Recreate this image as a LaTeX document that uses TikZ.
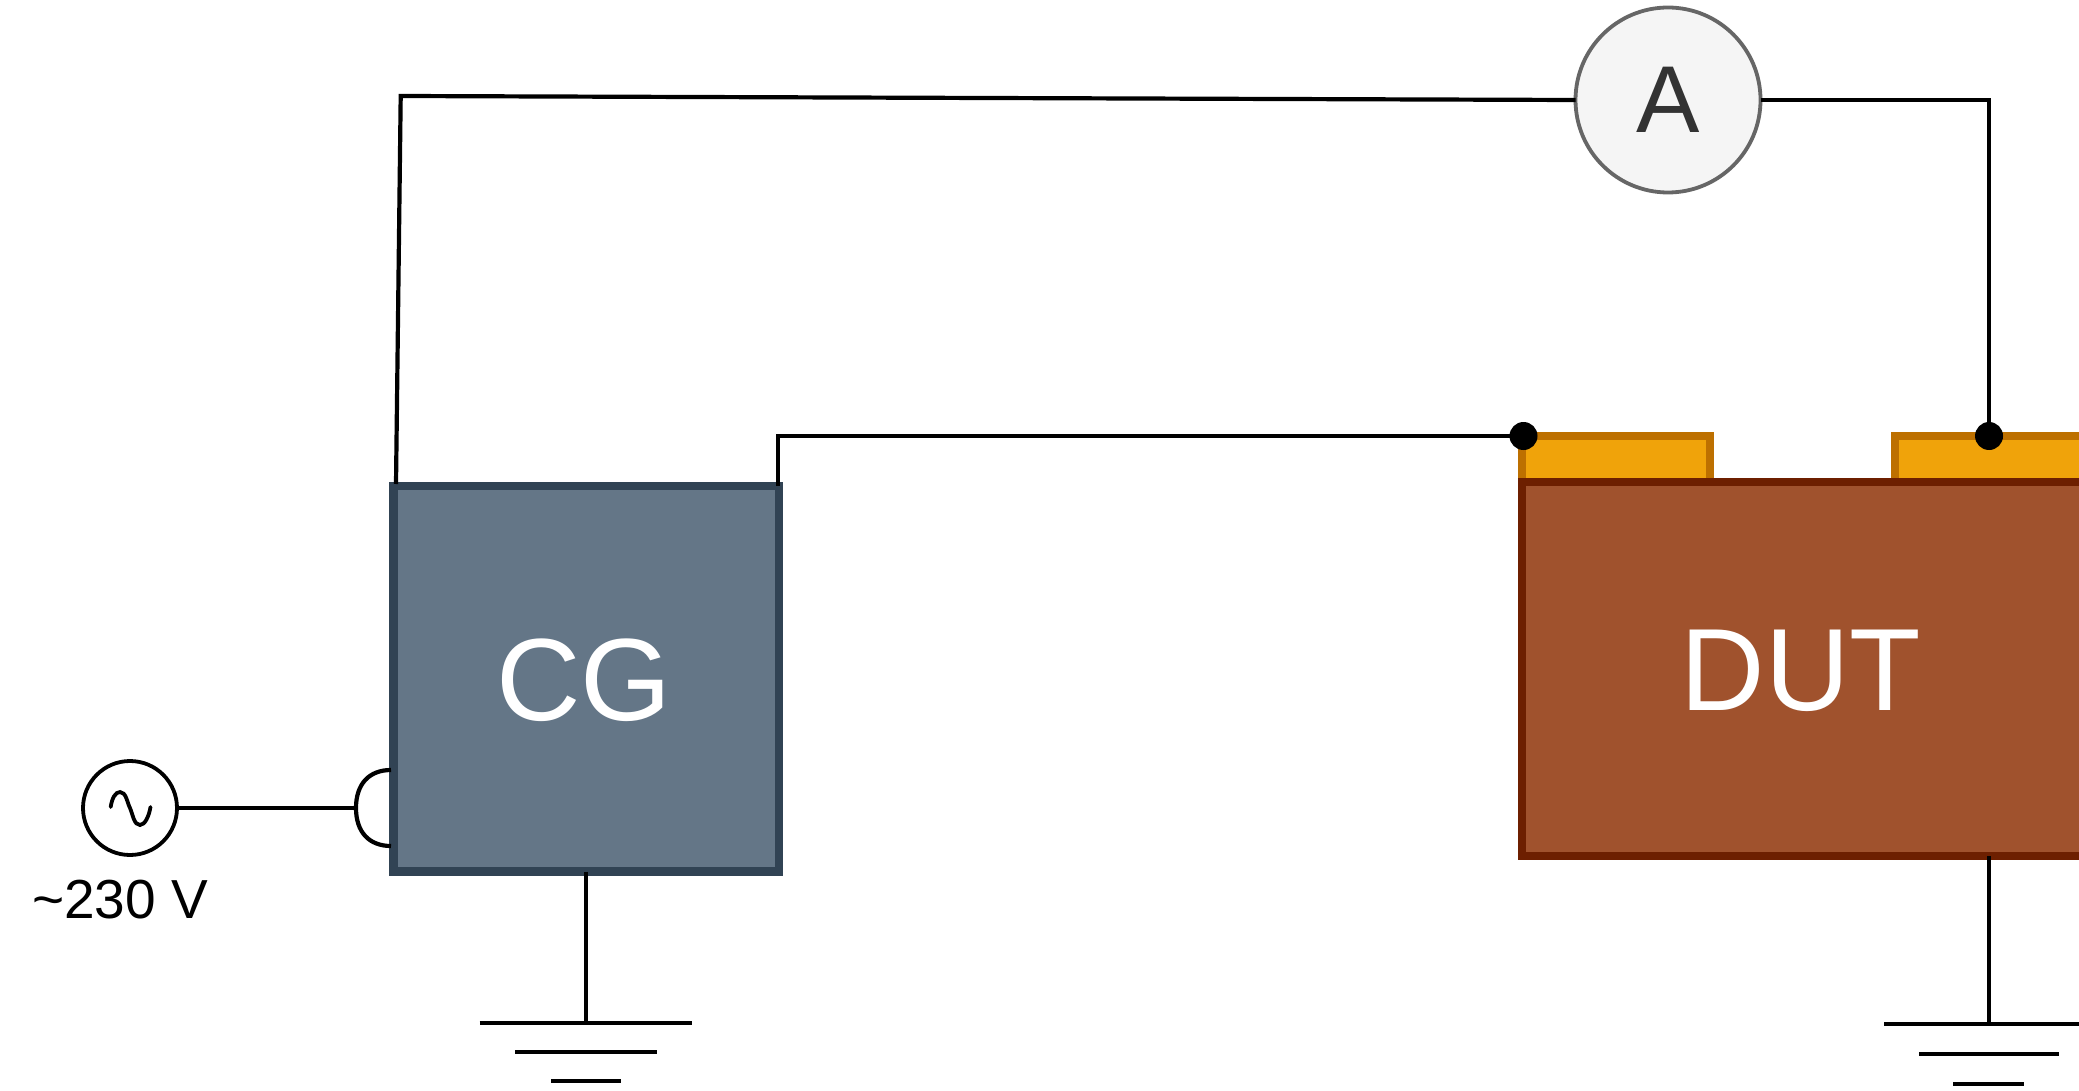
\documentclass[tikz,border=0pt]{standalone}
\usepackage{fontspec}
\setmainfont{Liberation Sans}
\definecolor{cgfill}{HTML}{647687}
\definecolor{cgline}{HTML}{314354}
\definecolor{dutfill}{HTML}{A0522D}
\definecolor{dutline}{HTML}{6D1F00}
\definecolor{padfill}{HTML}{F0A30A}
\definecolor{padline}{HTML}{BD7000}
\definecolor{metfill}{HTML}{F5F5F5}
\definecolor{metline}{HTML}{666666}
\definecolor{mettext}{HTML}{333333}
\tikzset{
  block/.style={draw, line width=8.5pt, outer sep=0pt, inner sep=0pt, miter limit=10},
  cgblock/.style={block, fill=cgfill, draw=cgline},
  dutblock/.style={block, fill=dutfill, draw=dutline},
  padblock/.style={draw=padline, fill=padfill, line width=8.5pt, outer sep=0pt, inner sep=0pt},
  meter/.style={circle, draw=metline, fill=metfill, line width=3.8pt, outer sep=0pt, inner sep=0pt, minimum size=185pt, text=mettext, font=\fontsize{95}{95}\selectfont},
  source/.style={circle, draw=black, line width=3.8pt, outer sep=0pt, inner sep=0pt, minimum size=94pt},
  wire/.style={draw=black, line width=4.2pt, line join=miter},
  joint/.style={circle, fill=black, inner sep=0pt, outer sep=0pt, minimum size=28pt},
  gnd/.style={draw=black, line width=4.4pt},
  blocktext/.style={text=white, inner sep=0pt, font=\fontsize{117}{117}\selectfont},
  voltlabel/.style={inner sep=0pt, outer sep=0pt, font=\fontsize{55}{55}\selectfont, text=black}
}
\begin{document}
\begin{tikzpicture}[x=1pt,y=-1pt]
\clip (0,0) rectangle (2079,1091);
\useasboundingbox (0,0) rectangle (2079,1091);
\fill[white] (0,0) rectangle (2079,1091);

% contacts, under the device body
\node[padblock, minimum width=188pt, minimum height=46pt] (padL) at (1616,459) {};
\node[padblock, minimum width=200pt, minimum height=46pt] (padR) at (1995,459) {};

% blocks
\node[cgblock, minimum width=385.5pt, minimum height=385.5pt] (cg) at (586.25,678.75) {};
\node[dutblock, minimum width=561pt, minimum height=374pt] (dut) at (1802.5,669) {};
\node[blocktext] (cgtext) at (584,680) {CG};
\node[blocktext] (duttext) at (1801,671) {DUT};

% meter and source
\node[meter] (meter) at (1668,100) {A};
\node[source] (ac) at (130,808) {};
\coordinate (s0) at (110.7,807);
\coordinate (s1) at (120,792);
\coordinate (s3) at (140,825);
\coordinate (s4) at (150.5,807);
\draw[line width=3.8pt, line cap=round] (s0)
  .. controls (112,798) and (115.5,792) .. (s1)
  .. controls (126,792) and (127,802) .. (ac.center)
  .. controls (133,815) and (134,825) .. (s3)
  .. controls (145,825) and (149,816) .. (s4);
\node[voltlabel, anchor=base] (volt) at (120,918) {\textasciitilde 230 V};

% joints
\node[joint] (dotL) at (1523.5,436) {};
\node[joint] (dotR) at (1989,436) {};

% coordinates for wire bends
\coordinate (cgtl) at (396,484);
\coordinate (bendTL) at (400.7,96);
\coordinate (cgtr) at (778,486);
\coordinate (bendTR) at (778,436);
\coordinate (plugT) at (391,770);
\coordinate (plugB) at (391,846);
\coordinate (plugMid) at (356,808);

% wires
\draw[wire] (cgtl) -- (bendTL) -- (meter.west);
\draw[wire] (meter.east) -| (dotR.center);
\draw[wire] (cgtr) -- (bendTR) -- (dotL.center);
\draw[wire] (ac.east) -- (plugMid);
\draw[wire] (plugT) .. controls (369,770) and (356,784) .. (plugMid)
   .. controls (356,832) and (369,846) .. (plugB);

% grounds
\coordinate (g1) at (585.7,1023);
\coordinate (g2) at (1989,1024);
\draw[wire] (cg.south -| g1) -- (g1);
\draw[wire] (dut.south -| g2) -- (g2);
\draw[gnd] (479.6,1023) -- (692,1023);
\draw[gnd] (515,1052) -- (657,1052);
\draw[gnd] (551,1081) -- (621,1081);
\draw[gnd] (1884,1024) -- (2094,1024);
\draw[gnd] (1919,1054) -- (2059,1054);
\draw[gnd] (1953,1084) -- (2023.5,1084);
\end{tikzpicture}
\end{document}
